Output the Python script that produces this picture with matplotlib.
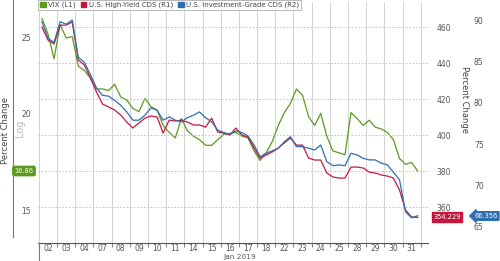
import numpy as np
import matplotlib
matplotlib.use("Agg")
import matplotlib.pyplot as plt
from matplotlib.lines import Line2D
from matplotlib.patches import Patch
from matplotlib.ticker import FixedLocator, NullLocator, FixedFormatter

# trading days in Jan 2019, three readings per day
day_labels = ["02", "03", "04", "07", "08", "09", "10", "11", "14", "15", "16",
              "17", "18", "22", "23", "24", "25", "28", "29", "30", "31"]

vix = [26.5, 25.3, 23.5, 26.0, 25.0, 25.1, 23.0, 22.7, 22.2, 21.5, 21.5, 21.4,
       21.8, 21.0, 20.8, 20.3, 20.1, 20.9, 20.4, 20.2, 19.3, 18.9, 18.6, 19.7,
       19.0, 18.7, 18.5, 18.2, 18.2, 18.5, 18.8, 18.85, 18.9, 18.7, 18.6, 17.9,
       17.4, 17.8, 18.4, 19.3, 20.05, 20.6, 21.5, 21.1, 19.8, 19.3, 20.0, 18.7,
       17.9, 17.8, 17.7, 20.05, 19.7, 19.3, 19.6, 19.2, 19.1, 18.9, 18.5, 17.5,
       17.2, 17.3, 16.86]

hy_cds = [460.0, 452.8, 450.6, 461.1, 461.1, 462.8, 441.7, 438.9, 431.7,
          423.9, 417.2, 415.6, 413.9, 411.1, 407.2, 403.9, 406.7, 409.4,
          410.6, 410.0, 401.1, 408.3, 407.8, 408.3, 407.2, 405.6, 405.6,
          404.4, 409.4, 401.7, 401.1, 400.0, 403.9, 400.0, 398.9, 392.8,
          387.2, 388.9, 390.6, 392.8, 395.6, 398.3, 394.4, 394.4, 387.2,
          386.1, 386.1, 378.9, 376.7, 376.1, 376.1, 382.2, 382.2, 381.7,
          379.4, 378.9, 377.8, 377.2, 376.1, 369.4, 358.3, 354.4, 354.229]

ig_cds = [89.8, 87.8, 87.3, 89.8, 89.5, 90.0, 85.5, 84.9, 83.4, 81.8, 80.9, 80.8,
          80.3, 79.7, 78.9, 77.9, 77.9, 78.5, 79.4, 79.1, 77.9, 78.3, 77.9, 77.7,
          78.2, 78.5, 78.9, 78.2, 77.7, 76.7, 76.4, 76.2, 76.6, 76.4, 76.0, 74.9,
          73.5, 73.9, 74.2, 74.5, 75.3, 75.9, 74.7, 74.7, 74.5, 74.3, 74.9, 72.9,
          72.4, 72.5, 72.4, 73.9, 73.7, 73.3, 73.1, 73.1, 72.7, 72.5, 71.6, 70.7,
          66.8, 66.1, 66.356]

green = "#5b9a1f"
red = "#c8173f"
blue = "#2f6eae"
txt = "#555555"

n_days = len(day_labels)
x = np.repeat(np.arange(n_days), 3) + np.tile([1 / 6, 0.5, 5 / 6], n_days)

fig = plt.figure(figsize=(5.0, 2.61), dpi=100)
ax = fig.add_axes([0.076, 0.069, 0.78, 0.923])
ax2 = ax.twinx()
ax3 = ax.twinx()

ax.plot(x, vix, color=green, lw=0.9)
ax2.plot(x, hy_cds, color=red, lw=0.9)
ax3.plot(x, ig_cds, color=blue, lw=0.9)

ax.set_xlim(-0.05, 21.4)
ax.set_yscale("log")
ax.set_ylim(13.63, 27.8)
ax2.set_ylim(340.0, 473.9)
ax3.set_ylim(63.06, 92.17)

# x axis: gridlines at day boundaries, labels centred in each day
ax.xaxis.set_major_locator(FixedLocator(np.arange(n_days + 1)))
ax.xaxis.set_major_formatter(FixedFormatter([""] * (n_days + 1)))
ax.xaxis.set_minor_locator(FixedLocator(np.arange(n_days) + 0.5))
ax.xaxis.set_minor_formatter(FixedFormatter(day_labels))
ax.tick_params(axis="x", which="major", length=3, color="#888888", direction="out")
ax.tick_params(axis="x", which="minor", length=0, labelsize=5.5, labelcolor=txt, pad=1)
ax.grid(axis="x", which="major", color="#d4d4d4", lw=0.7)

# left (log) axis
ax.yaxis.set_major_locator(FixedLocator([15, 20, 25]))
ax.yaxis.set_major_formatter(FixedFormatter(["15", "20", "25"]))
ax.yaxis.set_minor_locator(NullLocator())
ax.tick_params(axis="y", length=0, labelsize=5.5, labelcolor=txt, pad=5)

# right axes
ax2.set_yticks([360, 380, 400, 420, 440, 460])
ax2.tick_params(axis="y", length=0, labelsize=5.5, labelcolor=txt, pad=6)
ax2.grid(axis="y", color="#bdbdbd", lw=0.7, linestyle=(0, (1.5, 2)))

ax3.spines["right"].set_position(("outward", 31))
ax3.set_yticks([65, 70, 75, 80, 85, 90])
ax3.tick_params(axis="y", length=0, labelsize=5.5, labelcolor=txt, pad=2)

for a in (ax, ax2, ax3):
    for s in ("top", "right", "left"):
        a.spines[s].set_visible(False)
ax2.spines["bottom"].set_visible(False)
ax3.spines["bottom"].set_visible(False)
ax.spines["bottom"].set_color("#555555")
ax.spines["bottom"].set_linewidth(0.8)

# left axis line and first-day tick
fig.add_artist(Line2D([13 / 500, 13 / 500], [1 - 237 / 261, 1.0], color="#777777", lw=0.8))
fig.add_artist(Line2D([39 / 500, 39 / 500], [0.0, 1 - 243 / 261], color="#777777", lw=0.8))

fig.text(6 / 500, 1 - 130 / 261, "Percent Change", rotation=90, ha="center", va="center",
         fontsize=6, color="#444444")
fig.text(20 / 500, 1 - 128 / 261, "Log", rotation=90, ha="center", va="center",
         fontsize=7, color="#bbbbbb")
fig.text(465 / 500, 1 - 100 / 261, "Percent Change", rotation=270, ha="center", va="center",
         fontsize=6, color="#444444")
fig.text(240 / 500, 1 - 257.5 / 261, "Jan 2019", ha="center", va="center",
         fontsize=5.3, color=txt)

# last value tags
fig.text(24 / 500, 1 - 171 / 261, "16.86", ha="center", va="center", fontsize=4.8,
         color="white", bbox=dict(boxstyle="round,pad=0.25", fc=green, ec=green))
fig.text(447 / 500, 1 - 217 / 261, "354.229", ha="center", va="center", fontsize=4.8,
         color="white", bbox=dict(boxstyle="square,pad=0.25", fc=red, ec=red))
fig.text(486 / 500, 1 - 216 / 261, "66.356", ha="center", va="center", fontsize=4.8,
         color="white", bbox=dict(boxstyle="larrow,pad=0.2", fc=blue, ec=blue))

handles = [Patch(fc=green, ec=green), Patch(fc=red, ec=red), Patch(fc=blue, ec=blue)]
leg = ax3.legend(handles, ["VIX (L1)", "U.S. High-Yield CDS (R1)", "U.S. Investment-Grade CDS (R2)"],
                 loc="upper left", bbox_to_anchor=(0.0, 1.01), ncol=3, fontsize=5,
                 frameon=True, fancybox=False, edgecolor="#999999", handlelength=0.8,
                 handleheight=0.8, handletextpad=0.3, columnspacing=0.8,
                 borderpad=0.3, borderaxespad=0.0)
leg.get_frame().set_linewidth(0.6)
for t in leg.get_texts():
    t.set_color("#444444")

fig.savefig("out.png", dpi=100)
